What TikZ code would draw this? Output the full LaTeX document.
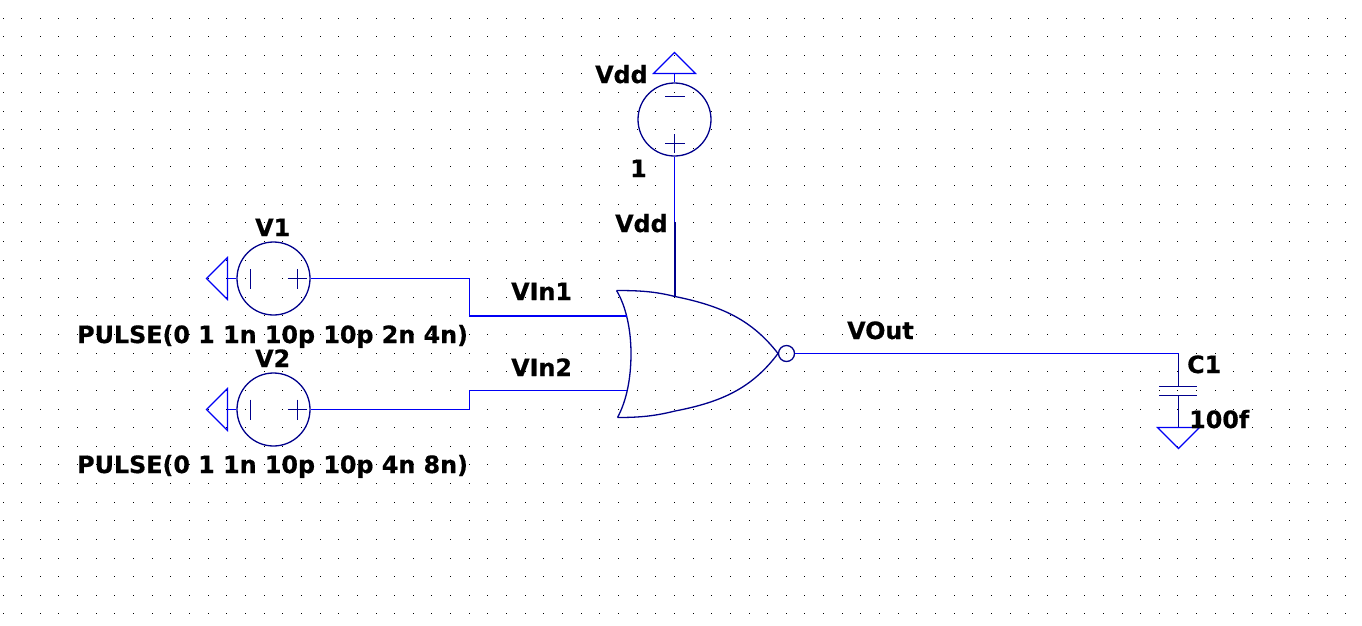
\documentclass[tikz,border=0pt]{standalone}
\usepackage{fontspec}
\setmainfont{DejaVu Sans}[BoldFeatures={FakeBold=0.6}]
\definecolor{wireblue}{RGB}{0,0,245}
\definecolor{symnavy}{RGB}{0,0,140}
\tikzset{
  wire/.style={draw=wireblue,line width=1.3pt},
  sym/.style={draw=symnavy,line width=1.3pt},
  flagsym/.style={draw=wireblue,line width=1.2pt,line join=miter},
  source/.style={circle,draw=symnavy,line width=1.3pt,minimum size=73pt,inner sep=0pt},
  bubble/.style={circle,draw=symnavy,line width=1.3pt,minimum size=16pt,inner sep=0pt},
  lbl/.style={font=\bfseries\fontsize{23.8}{28}\selectfont,text=black,inner sep=0pt,anchor=base west},
  griddot/.style={fill=black,draw=none}
}
\begin{document}
\begin{tikzpicture}[x=1pt,y=-1pt]
\useasboundingbox (0,0) rectangle (1362,625);
\fill[white] (0,0) rectangle (1362,625);
% editor grid
\foreach \i in {0,...,72}{
  \foreach \j in {1,...,33}{
    \pgfmathsetmacro{\dx}{3+18.65*\i}
    \pgfmathsetmacro{\dy}{-0.6+18.62*\j}
    \fill[griddot] (\dx-0.5,\dy-0.5) rectangle (\dx+0.5,\dy+0.5);
  }
}
% sources
\node[source] (vdd) at (674.5,119.5) {};
\node[source] (v1) at (273.5,278.5) {};
\node[source] (v2) at (273.5,409.5) {};
% Vdd polarity
\draw[sym] (665,96.5) -- (685,96.5);
\draw[sym] (665,143.5) -- (685,143.5) (674.5,134) -- (674.5,153);
% V1 polarity
\draw[sym] (250.5,269) -- (250.5,289);
\draw[sym] (287.5,278.5) -- (307,278.5) (297.5,269) -- (297.5,289);
% V2 polarity
\draw[sym] (250.5,399.5) -- (250.5,419.5);
\draw[sym] (287.5,409.5) -- (307,409.5) (297.5,399.5) -- (297.5,419.5);
% ground and supply flags
\coordinate (fvdd) at (674.5,73.5);
\draw[flagsym] (fvdd) ++(-21,0) -- (674.5,52.5) -- (695.5,73.5) -- cycle;
\draw[wire] (fvdd) -- (vdd.north);
\coordinate (fv1) at (227.5,278.5);
\draw[flagsym] (227.5,257.5) -- (206.5,278.5) -- (227.5,299.5) -- cycle;
\draw[wire] (fv1) -- (v1.west);
\coordinate (fv2) at (227.5,409.5);
\draw[flagsym] (227.5,388.5) -- (206.5,409.5) -- (227.5,430.5) -- cycle;
\draw[wire] (fv2) -- (v2.west);
% gate
\coordinate (gtl) at (616.5,290.5);
\coordinate (gbl) at (617.5,417.5);
\coordinate (gtip) at (778,353.5);
\coordinate (gin1) at (626.5,316);
\coordinate (gin2) at (627,390.5);
\coordinate (gvdd) at (675,296.5);
\draw[sym] (gtl) .. controls (626,306) and (631,330) .. (631,353.5)
  .. controls (631,377) and (627,400) .. (gbl);
\draw[sym] (gtl) .. controls (640,290.5) and (655,291.5) .. (gvdd)
  .. controls (722,306) and (752,320) .. (gtip)
  .. controls (752,388) and (722,402) .. (675,411)
  .. controls (655,416) and (640,417.5) .. (gbl);
\node[bubble] (inv) at (786.5,353.5) {};
% wires
\coordinate (tap) at (674.5,222);
\draw[wire] (vdd.south) -- (tap);
\draw[sym] (675,222) -- (gvdd);
\coordinate (k1) at (469.5,316);
\coordinate (k2) at (469.5,390.5);
\draw[wire] (v1.east) -| (k1) -- (gin1);
\draw[wire] (v2.east) -| (k2) -- (gin2);
% capacitor
\coordinate (cap) at (1178.5,353.5);
\coordinate (pa) at (1178.5,386.5);
\coordinate (pb) at (1178.5,395.5);
\coordinate (fc) at (1178.5,427.5);
\draw[wire] (inv.east) -- (cap);
\draw[sym] (cap) -- (pa);
\draw[sym] (pb) -- (fc);
\draw[sym] (1159,386.5) -- (1197,386.5) (1159,395.5) -- (1197,395.5);
\draw[flagsym] (1157.5,427.5) -- (1199.5,427.5) -- (1178.5,448.5) -- cycle;
% labels
\node[lbl] (tv1) at (255,236) {V1};
\node[lbl] (tp1) at (77,343) {PULSE(0 1 1n 10p 10p 2n 4n)};
\node[lbl] (tv2) at (255,367) {V2};
\node[lbl] (tp2) at (77,473) {PULSE(0 1 1n 10p 10p 4n 8n)};
\node[lbl] (tvdd) at (595,83) {Vdd};
\node[lbl] (tone) at (630,177) {1};
\node[lbl] (tnet) at (615,232) {Vdd};
\node[lbl] (tin1) at (511,300) {VIn1};
\node[lbl] (tin2) at (511,376) {VIn2};
\node[lbl] (tout) at (847,339) {VOut};
\node[lbl] (tc1) at (1187,373) {C1};
\node[lbl] (tcv) at (1189,428) {100f};
\end{tikzpicture}
\end{document}
